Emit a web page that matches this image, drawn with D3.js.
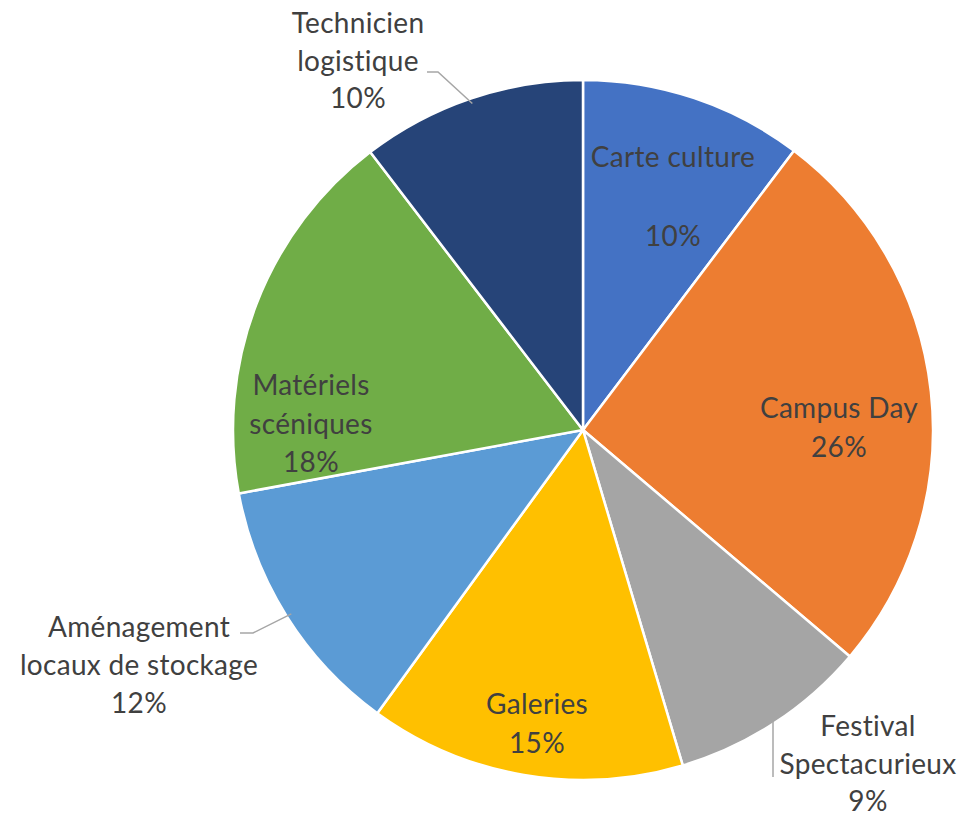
<!DOCTYPE html>
<html>
<head>
<meta charset="utf-8">
<script src="https://cdn.jsdelivr.net/npm/d3@7"></script>
<style>
  body { margin: 0; background: #fff; }
  text { font-family: Lato, "Open Sans", sans-serif; fill: #404040; }
</style>
</head>
<body>
<div id="chart"></div>
<script>
// data
const categories = ["Carte culture", "Campus Day", "Festival Spectacurieux", "Galeries",
  "Aménagement locaux de stockage", "Matériels scéniques", "Technicien logistique"];
const shares = [10.3, 25.9, 9.2, 14.6, 12.1, 17.5, 10.4];
const colors = ["#4472C4", "#ED7D31", "#A5A5A5", "#FFC000", "#5B9BD5", "#70AD47", "#264478"];
// how each label is broken into lines
const labelLines = [["Carte culture"], ["Campus Day"], ["Festival", "Spectacurieux"], ["Galeries"],
  ["Aménagement", "locaux de stockage"], ["Matériels", "scéniques"], ["Technicien", "logistique"]];

const width = 969, height = 819;
const cx = 583, cy = 430, radius = 350;

// label placement (first baseline) like the manually dragged excel labels
const labelPos = [[673, 167], [839, 418], [868, 736], [537, 714], [139, 637], [311, 395], [358, 33]];
const lineH = [79, 39, 37.5, 39, 38, 38.5, 37.5];

const svg = d3.select("#chart").append("svg")
  .attr("width", width)
  .attr("height", height);

const pie = d3.pie().sort(null).value(d => d);
const arcs = pie(shares);
const arcGen = d3.arc().innerRadius(0).outerRadius(radius);

const g = svg.append("g").attr("transform", `translate(${cx},${cy})`);
g.selectAll("path")
  .data(arcs)
  .join("path")
  .attr("d", arcGen)
  .attr("fill", (d, i) => colors[i])
  .attr("stroke", "#fff")
  .attr("stroke-width", 2.5);

// leader lines for the labels outside the pie
const leader = d3.line();
const outer = (i, k) => {
  const a = (arcs[i].startAngle + arcs[i].endAngle) / 2;
  return [cx + Math.sin(a) * radius * k, cy - Math.cos(a) * radius * k];
};
const leaders = [
  [[427, 72], [438, 72], outer(6, 0.985)],
  [[240, 633], [253, 633], outer(4, 0.985)],
  [[773, 777], outer(2, 0.985).map((v, j) => j === 0 ? 773 : v)]
];
svg.selectAll("path.leader")
  .data(leaders)
  .join("path")
  .attr("class", "leader")
  .attr("d", leader)
  .attr("fill", "none")
  .attr("stroke", "#A6A6A6")
  .attr("stroke-width", 1.5);

const labels = svg.selectAll("text.lbl")
  .data(arcs)
  .join("text")
  .attr("class", "lbl")
  .attr("text-anchor", "middle")
  .attr("font-size", 28)
  .attr("letter-spacing", 0.3)
  .attr("x", (d, i) => labelPos[i][0])
  .attr("y", (d, i) => labelPos[i][1]);

labels.each(function(d, i) {
  const t = d3.select(this);
  const lines = labelLines[i].concat([Math.round(d.value) + "%"]);
  lines.forEach((s, j) => {
    t.append("tspan")
      .attr("x", labelPos[i][0])
      .attr("dy", j === 0 ? 0 : lineH[i])
      .text(s);
  });
});
</script>
</body>
</html>
